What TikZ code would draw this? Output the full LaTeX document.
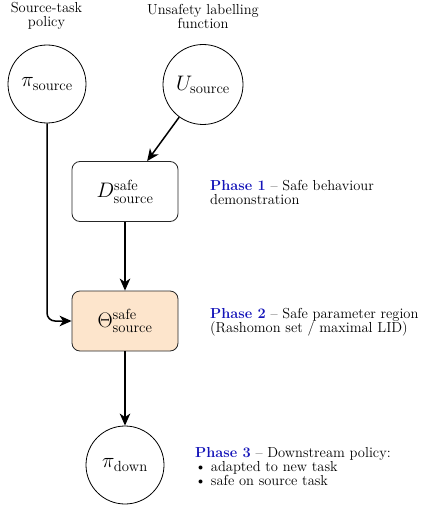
\RequirePackage{fix-cm}
\documentclass[tikz,border=0pt]{standalone}
\usepackage{fontspec}
\usetikzlibrary{arrows.meta}
\definecolor{phaseblue}{RGB}{20,20,185}
\definecolor{peach}{RGB}{253,229,204}
\begin{document}
\begin{tikzpicture}[x=1pt,y=-1pt,
  circ/.style={circle,draw,line width=0.8pt,minimum size=78pt,inner sep=0pt,font=\fontsize{21}{25}\selectfont},
  boxs/.style={draw=black!85,rounded corners=8pt,line width=0.8pt,minimum width=106pt,minimum height=60pt,inner sep=0pt,font=\fontsize{21}{25}\selectfont},
  conn/.style={line width=1.5pt,-{Stealth[length=12pt,width=10.5pt,inset=3.5pt]}},
  ttl/.style={align=center,font=\fontsize{14.5}{14}\selectfont,inner sep=0pt},
  phs/.style={align=left,anchor=west,font=\fontsize{14.5}{14}\selectfont,inner sep=0pt}]
\useasboundingbox (0,0) rectangle (424,508);
\node[circ] (ps) at (47,84) {$\pi_{\mathrm{source}}$};
\node[circ,minimum size=80pt] (us) at (203,84.5) {$U_{\mathrm{source}}$};
\node[boxs,fill=white] (d) at (125,191.5) {$D^{\mathrm{safe}}_{\mathrm{source}}$};
\node[boxs,fill=peach] (th) at (125,321) {$\Theta^{\mathrm{safe}}_{\mathrm{source}}$};
\node[circ] (pd) at (125,465) {$\pi_{\mathrm{down}}$};
\node[ttl] (t1) at (46.5,16) {Source-task\\policy};
\node[ttl] (t2) at (203,16) {Unsafety labelling\\function};
\node[phs] (p1) at (210,192) {\textcolor{phaseblue}{\textbf{Phase 1}} -- Safe behaviour\\demonstration};
\node[phs] (p2) at (210,322) {\textcolor{phaseblue}{\textbf{Phase 2}} -- Safe parameter region\\(Rashomon set / maximal LID)};
\node[phs] (p3) at (195,467) {\textcolor{phaseblue}{\textbf{Phase 3}} -- Downstream policy:\\\textbullet{} adapted to new task\\\textbullet{} safe on source task};
\draw[conn,rounded corners=8pt] (ps.south) |- (th.west);
\draw[conn] (us) -- (d);
\draw[conn] (d) -- (th);
\draw[conn] (th) -- (pd);
\end{tikzpicture}
\end{document}
